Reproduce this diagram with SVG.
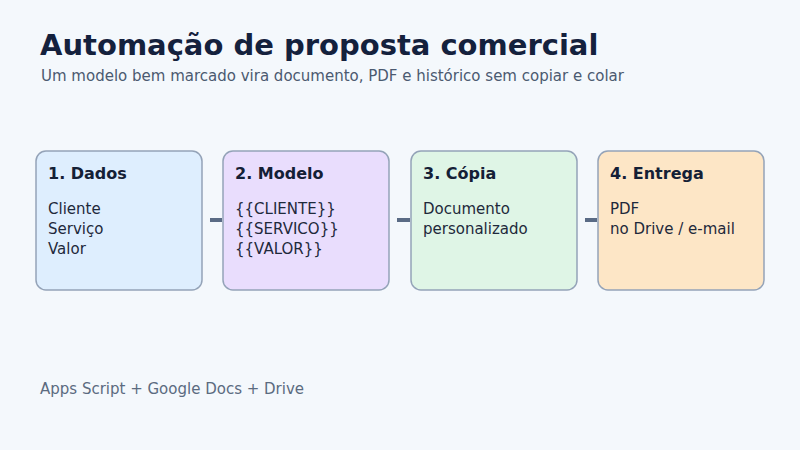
<svg xmlns="http://www.w3.org/2000/svg" width="800" height="450" viewBox="0 0 800 450">
<style>
.t{font-family:"DejaVu Sans",sans-serif}
.box{stroke:#94a3b8;stroke-width:1.5}
.h{font-family:"DejaVu Sans",sans-serif;font-size:16px;font-weight:bold;fill:#142036}
.b{font-family:"DejaVu Sans",sans-serif;font-size:15px;fill:#1e293b}
.c{stroke:#5a6b85;stroke-width:4}
</style>
<rect width="800" height="450" fill="#f4f8fc"/>
<text class="t" x="40" y="55" font-size="29" font-weight="bold" fill="#14213d">Automação de proposta comercial</text>
<text class="t" x="41" y="81" font-size="15" fill="#4b5a70">Um modelo bem marcado vira documento, PDF e histórico sem copiar e colar</text>
<g id="connectors">
<line class="c" x1="210" y1="220" x2="222" y2="220"/>
<line class="c" x1="397" y1="220" x2="410" y2="220"/>
<line class="c" x1="585" y1="220" x2="597" y2="220"/>
</g>
<g id="n1">
<rect class="box" x="36" y="151" width="166" height="139" rx="10" fill="#deeefe"/>
<text class="h" x="48" y="179">1. Dados</text>
<text class="b" x="48" y="214">Cliente</text>
<text class="b" x="48" y="234">Serviço</text>
<text class="b" x="48" y="254">Valor</text>
</g>
<g id="n2">
<rect class="box" x="223" y="151" width="166" height="139" rx="10" fill="#e9ddfd"/>
<text class="h" x="235" y="179">2. Modelo</text>
<text class="b" x="235" y="214">{{CLIENTE}}</text>
<text class="b" x="235" y="234">{{SERVICO}}</text>
<text class="b" x="235" y="254">{{VALOR}}</text>
</g>
<g id="n3">
<rect class="box" x="411" y="151" width="166" height="139" rx="10" fill="#dff5e6"/>
<text class="h" x="423" y="179">3. Cópia</text>
<text class="b" x="423" y="214">Documento</text>
<text class="b" x="423" y="234">personalizado</text>
</g>
<g id="n4">
<rect class="box" x="598" y="151" width="166" height="139" rx="10" fill="#fde6c6"/>
<text class="h" x="610" y="179">4. Entrega</text>
<text class="b" x="610" y="214">PDF</text>
<text class="b" x="610" y="234">no Drive / e-mail</text>
</g>
<text class="t" x="40" y="394" font-size="15" fill="#5b6b80">Apps Script + Google Docs + Drive</text>
</svg>
